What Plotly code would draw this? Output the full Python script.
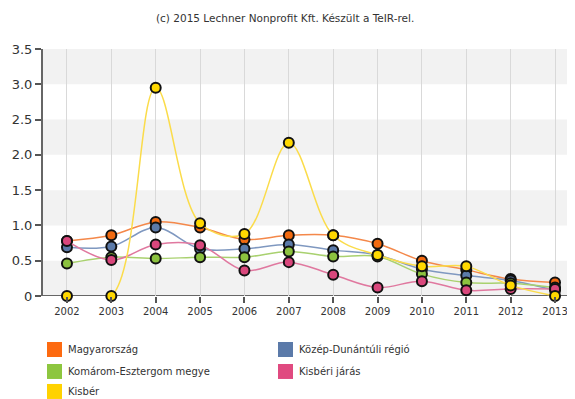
import plotly.graph_objects as go

years = [2002, 2003, 2004, 2005, 2006, 2007, 2008, 2009, 2010, 2011, 2012, 2013]

series_names = ["Magyarország", "Közép-Dunántúli régió", "Komárom-Esztergom megye",
                "Kisbéri járás", "Kisbér"]

magyarorszag = [0.78, 0.86, 1.05, 0.97, 0.80, 0.86, 0.86, 0.74, 0.50, 0.37, 0.24, 0.19]
kozep_dunantul = [0.69, 0.70, 0.97, 0.67, 0.67, 0.73, 0.65, 0.58, 0.38, 0.29, 0.22, 0.08]
komarom = [0.46, 0.55, 0.53, 0.55, 0.55, 0.63, 0.56, 0.56, 0.31, 0.19, 0.18, 0.12]
kisberi_jaras = [0.78, 0.51, 0.73, 0.72, 0.36, 0.48, 0.30, 0.12, 0.21, 0.08, 0.10, 0.10]
kisber = [0.0, 0.0, 2.95, 1.03, 0.88, 2.17, 0.86, 0.58, 0.42, 0.42, 0.15, 0.0]

series_values = [magyarorszag, kozep_dunantul, komarom, kisberi_jaras, kisber]
line_colors = ["#f4884a", "#7f98c0", "#a9d16f", "#e0789f", "#fbdc4a"]
marker_colors = ["#f26a10", "#5b7aa9", "#8cc23f", "#d9477c", "#ffd800"]
swatch_colors = ["#fd6a10", "#5b7aa9", "#8dc63f", "#e04a80", "#ffd200"]

y_ticks = [0, 0.5, 1.0, 1.5, 2.0, 2.5, 3.0, 3.5]
y_tick_labels = ["0", "0.5", "1.0", "1.5", "2.0", "2.5", "3.0", "3.5"]

title_text = "(c) 2015 Lechner Nonprofit Kft. Készült a TeIR-rel."

# the page body has an 8px margin, so the figure is 8px smaller than the window
OFF = 8
W, H = 575 - OFF, 399 - OFF
ml, mr = 43 - OFF, 0
mt = 49.4 - OFF
mb = H - (296.5 - OFF)
pw = W - ml - mr
ph = H - mt - mb


def px_x(px):
    return (px - OFF - ml) / pw


def px_y(py):
    return (H - mb - (py - OFF)) / ph


fig = go.Figure()

# alternating background bands
for lo in [0, 1.0, 2.0, 3.0]:
    fig.add_shape(type="rect", xref="paper", yref="y", x0=0, x1=1, y0=lo, y1=lo + 0.5,
                  fillcolor="#f2f2f2", line_width=0, layer="below")

for name, vals, lc, mc in zip(series_names, series_values, line_colors, marker_colors):
    fig.add_trace(go.Scatter(
        x=years, y=vals, name=name, mode="lines+markers",
        line=dict(color=lc, width=1.5, shape="spline", smoothing=1.0),
        marker=dict(color=mc, size=10, line=dict(color="#111111", width=2)),
        showlegend=False, cliponaxis=False,
    ))

# manual legend (two columns), positions in window pixels
legend_pos = [(47, 350), (278, 350), (47, 372), (278, 372), (47, 392)]
for (sx, sy), name, col in zip(legend_pos, series_names, swatch_colors):
    fig.add_shape(type="rect", xref="paper", yref="paper",
                  x0=px_x(sx), x1=px_x(sx + 15), y0=px_y(sy + 7.5), y1=px_y(sy - 7.5),
                  fillcolor=col, line_width=0)
    fig.add_annotation(xref="paper", yref="paper", x=px_x(sx + 19), y=px_y(sy),
                       text=name, showarrow=False, xanchor="left", yanchor="middle",
                       font=dict(family="DejaVu Sans", size=10, color="#333333"))

fig.add_annotation(xref="paper", yref="paper", x=px_x(285), y=px_y(18),
                   text=title_text, showarrow=False, xanchor="center", yanchor="middle",
                   font=dict(family="DejaVu Sans", size=10.5, color="#333333"))

fig.update_layout(
    width=W, height=H,
    margin=dict(l=ml, r=mr, t=mt, b=mb, autoexpand=False),
    paper_bgcolor="white", plot_bgcolor="white",
    xaxis=dict(range=[2001.46, 2013.45], tickvals=years, ticktext=[str(y) for y in years],
               showgrid=True, gridcolor="#d9d9d9", gridwidth=1,
               zeroline=False, showline=False, automargin=False,
               ticks="outside", ticklen=6, tickcolor="#555555", tickwidth=1.5,
               tickfont=dict(family="DejaVu Sans", size=10, color="#333333")),
    yaxis=dict(range=[0, 3.5], tickvals=y_ticks, ticktext=y_tick_labels,
               showgrid=False, zeroline=False, automargin=False,
               showline=True, linecolor="#666666", linewidth=2,
               ticks="outside", ticklen=6, tickcolor="#555555", tickwidth=1.5,
               tickfont=dict(family="DejaVu Sans", size=13, color="#333333")),
)

# x axis baseline
fig.add_shape(type="line", xref="paper", yref="y", x0=0, x1=1, y0=0, y1=0,
              line=dict(color="#666666", width=2), layer="below")

fig.write_html("out.html")
